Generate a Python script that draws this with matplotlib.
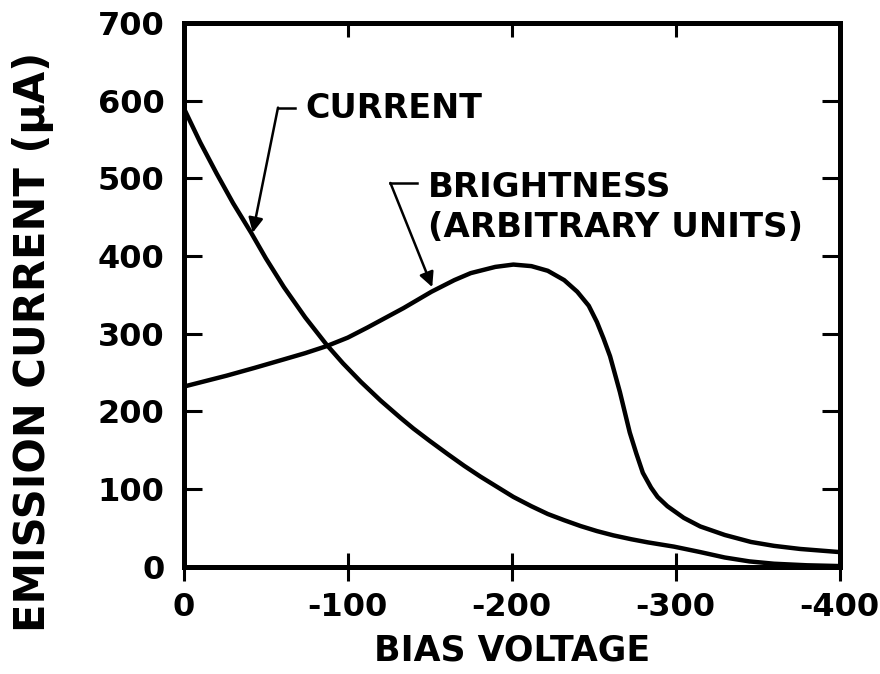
import matplotlib
matplotlib.use("Agg")
import matplotlib.pyplot as plt

# 読み取った値
bias_current = [0, -10, -20, -30, -41, -50, -61, -74, -87, -97, -108, -120, -132,
                -140, -150, -161, -171, -181, -191, -201, -212, -222, -232, -242,
                -252, -262, -273, -283, -299, -315, -330, -345, -360, -380, -400]
current = [590, 546, 506, 468, 430, 397, 360, 321, 286, 262, 238, 214, 192,
           178, 162, 145, 130, 116, 103, 90, 78, 68, 60, 52.5,
           46, 40.5, 35.5, 31.5, 26, 19, 12, 7, 4, 2, 1]

bias_bright = [0, -13, -26, -43, -61, -74, -87, -100, -112, -134, -151, -165, -175,
               -190, -201, -212, -222, -232, -240, -247, -252, -256, -260, -263,
               -266, -269, -272, -276, -280, -285, -289, -295, -305, -315, -330,
               -346, -360, -376, -400]
bright = [232, 239, 246, 256, 267, 275, 284, 295, 308, 333, 354, 369, 378,
          386, 389, 387, 381, 369, 354, 336, 315, 294, 271, 248,
          225, 199, 173, 146, 121, 102, 90, 78, 63, 52, 41,
          32, 27, 23, 19]

x_ticks = [0, -100, -200, -300, -400]
y_ticks = [0, 100, 200, 300, 400, 500, 600, 700]

plt.rcParams['font.family'] = ['DejaVu Sans']
plt.rcParams['font.weight'] = 'bold'
plt.rcParams['axes.unicode_minus'] = False

fig = plt.figure(figsize=(8.8, 6.74), dpi=100)
ax = fig.add_axes([0.209, 0.159, 0.745, 0.807])

ax.plot(bias_current, current, color='black', lw=3.2, solid_capstyle='butt')
ax.plot(bias_bright, bright, color='black', lw=3.2, solid_capstyle='butt')

ax.set_xlim(0, -400)
ax.set_ylim(0, 700)
ax.set_xticks(x_ticks)
ax.set_yticks(y_ticks)
ax.set_xticklabels([str(v) for v in x_ticks], fontsize=23, fontweight='bold')
ax.set_yticklabels([str(v) for v in y_ticks], fontsize=23, fontweight='bold')

for s in ax.spines.values():
    s.set_linewidth(3.6)

ax.tick_params(axis='x', which='major', bottom=True, top=False, direction='inout',
               length=20, width=2.2, pad=8)
ax.tick_params(axis='y', which='major', left=True, right=True, direction='in',
               length=13, width=2.2, pad=14)

# 上側の目盛り（内向き）
top = ax.secondary_xaxis('top')
top.set_xticks(x_ticks)
top.set_xticklabels([])
top.tick_params(direction='in', length=10, width=2.2)
top.spines['top'].set_visible(False)

ax.set_xlabel("BIAS VOLTAGE", fontsize=25, fontweight='bold', labelpad=8)
ax.set_ylabel("EMISSION CURRENT (μA)", fontsize=30, fontweight='bold')
ax.yaxis.set_label_coords(-0.198, 0.414)

# 注記
ax.text(-74, 590, "CURRENT", fontsize=24, fontweight='bold', ha='left', va='center')
ax.plot([-68, -57.4], [591, 591], color='black', lw=1.8)
ax.annotate('', xy=(-42, 430), xytext=(-57.4, 591),
            arrowprops=dict(arrowstyle='-|>', lw=1.8, color='black', mutation_scale=22,
                            shrinkA=0, shrinkB=0))

ax.text(-149, 488, "BRIGHTNESS", fontsize=24.5, fontweight='bold', ha='left', va='center')
ax.text(-149, 437, "(ARBITRARY UNITS)", fontsize=24.5, fontweight='bold', ha='left', va='center')
ax.plot([-142.3, -126], [494, 494], color='black', lw=1.8)
ax.annotate('', xy=(-151.5, 360), xytext=(-126, 494),
            arrowprops=dict(arrowstyle='-|>', lw=1.8, color='black', mutation_scale=22,
                            shrinkA=0, shrinkB=0))

plt.savefig("out.png", dpi=100)
